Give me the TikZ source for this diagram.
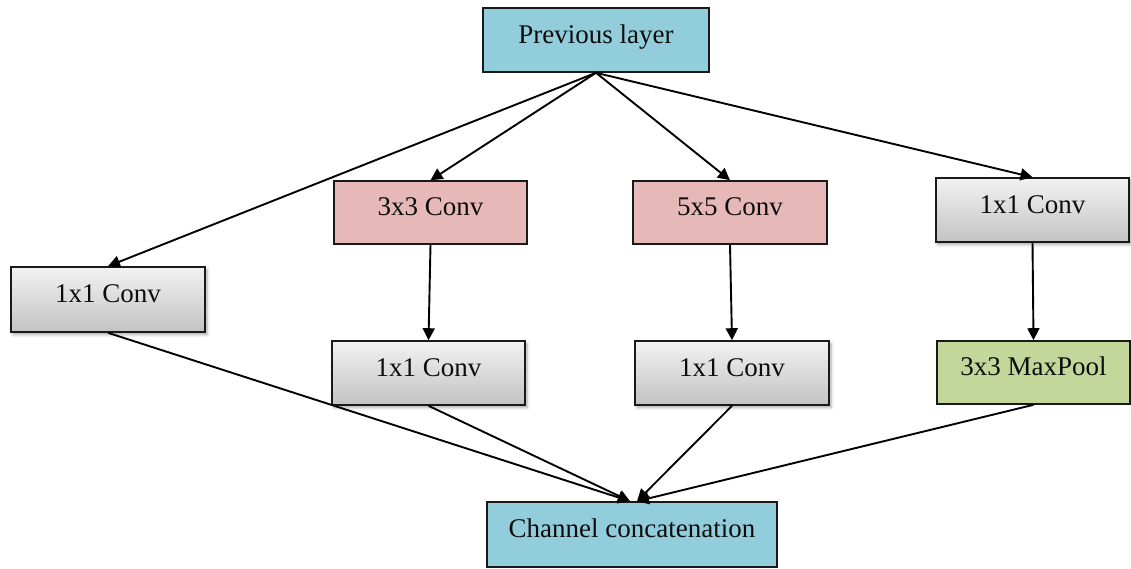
\documentclass[tikz,border=0pt]{standalone}
\usepackage{fontspec}
\setmainfont{Liberation Serif}
\usetikzlibrary{arrows.meta,shadows.blur}
\definecolor{layerblue}{HTML}{92CDDC}
\definecolor{convpink}{HTML}{E6B9B8}
\definecolor{poolgreen}{HTML}{C4D79B}
\definecolor{gtop}{HTML}{F2F2F2}
\definecolor{gbot}{HTML}{C3C3C3}
\begin{document}
\begin{tikzpicture}[x=1pt,y=-1pt,
  box/.style={draw=black!90, line width=1.6pt, rectangle, inner sep=0pt,
    font=\fontsize{27}{32}\selectfont, text=black!95,
    text height=19pt, text depth=13pt},
  bluebox/.style={box, fill=layerblue},
  pinkbox/.style={box, fill=convpink},
  greenbox/.style={box, fill=poolgreen},
  graybox/.style={box, top color=gtop, bottom color=gbot,
    blur shadow={shadow xshift=2pt, shadow yshift=-2.5pt, shadow blur radius=3pt, shadow opacity=35}},
  link/.style={line width=1.9pt, black, -{Triangle[length=12pt,width=12pt]}}]
\useasboundingbox (0,0) rectangle (1131,568);

\node[bluebox, minimum width=226pt, minimum height=64pt] (prev) at (596,40) {Previous layer};

\node[pinkbox, minimum width=193pt, minimum height=63pt] (c33) at (430.5,212.5) {3x3 Conv};
\node[pinkbox, minimum width=194pt, minimum height=63pt] (c55) at (730,212.5) {5x5 Conv};
\node[graybox, minimum width=193pt, minimum height=64pt] (r11) at (1032.5,210) {1x1 Conv};

\node[graybox, minimum width=194pt, minimum height=65pt] (l11) at (108,299.5) {1x1 Conv};

\node[graybox, minimum width=193pt, minimum height=64pt] (m11) at (428.5,373) {1x1 Conv};
\node[graybox, minimum width=194pt, minimum height=64pt] (n11) at (732,373) {1x1 Conv};
\node[greenbox, minimum width=193pt, minimum height=63pt] (mp) at (1033.5,372.5) {3x3 MaxPool};

\node[bluebox, minimum width=290pt, minimum height=65pt] (cc) at (632,534.5) {Channel concatenation};

% entry points on the concatenation box
\coordinate (inL) at ([xshift=-2pt]cc.north);
\coordinate (inR) at ([xshift=5pt]cc.north);

% fan-out from the previous layer
\draw[link] (prev.south) -- (l11.north);
\draw[link] (prev.south) -- (c33.north);
\draw[link] (prev.south) -- (c55.north);
\draw[link] (prev.south) -- (r11.north);

% second stage of each branch
\draw[link] (c33.south) -- (m11.north);
\draw[link] (c55.south) -- (n11.north);
\draw[link] (r11.south) -- (mp.north);

% merge into the concatenation
\draw[link] (l11.south) -- (inL);
\draw[link] (m11.south) -- (inL);
\draw[link] (n11.south) -- (inR);
\draw[link] (mp.south) -- (inR);
\end{tikzpicture}
\end{document}
